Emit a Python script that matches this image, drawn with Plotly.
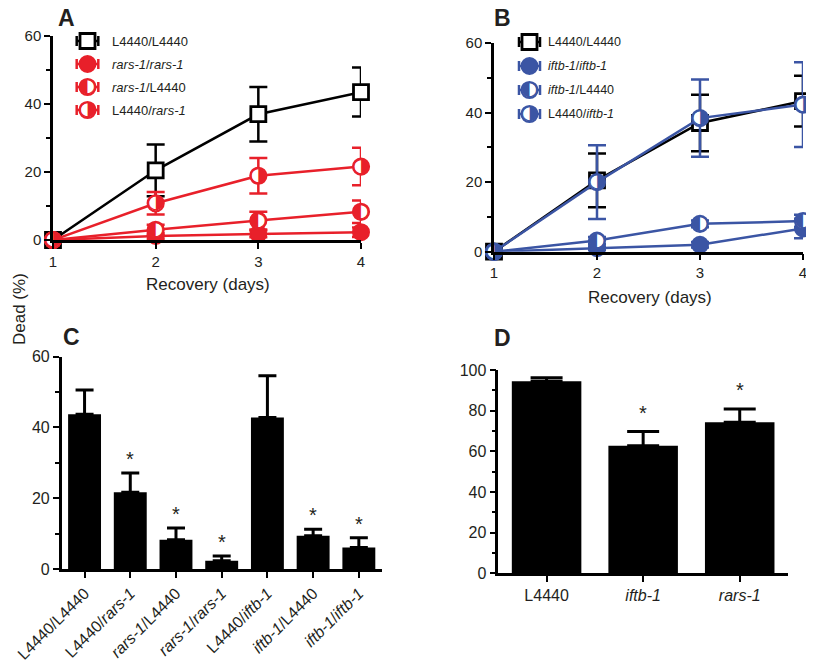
import plotly.graph_objects as go

# the page body has an 8px margin, so the figure is shifted by it
OFF = 8
W, H = 814 - OFF, 668 - OFF

RED = "#e8202a"
BLUE = "#3b55a4"
FONT = "Arial, Liberation Sans, sans-serif"
GLYPH_FONT = "DejaVu Sans"

days = [1, 2, 3, 4]

# Panel A - rars-1 feeding, % dead after recovery (mean and error)
a_names = ["L4440/L4440", "<i>rars-1</i>/<i>rars-1</i>", "<i>rars-1</i>/L4440", "L4440/<i>rars-1</i>"]
a_ctrl = [0, 20.5, 37.0, 43.5]
a_ctrl_err = [0, 7.6, 8.0, 7.2]
a_rr = [0, 1.2, 1.8, 2.3]
a_rr_err = [0, 0.8, 1.0, 1.4]
a_rl = [0, 3.0, 5.7, 8.3]
a_rl_err = [0, 1.5, 2.6, 3.3]
a_lr = [0, 10.8, 18.9, 21.6]
a_lr_err = [0, 3.3, 5.2, 5.5]

# Panel B - iftb-1 feeding
b_names = ["L4440/L4440", "<i>iftb-1</i>/<i>iftb-1</i>", "<i>iftb-1</i>/L4440", "L4440/<i>iftb-1</i>"]
b_ctrl = [0, 20.5, 37.0, 43.3]
b_ctrl_err = [0, 7.7, 8.1, 7.3]
b_ii = [0, 1.0, 2.0, 6.7]
b_ii_err = [0, 0.5, 0.8, 2.8]
b_il = [0, 3.2, 8.0, 8.8]
b_il_err = [0, 1.0, 1.0, 1.8]
b_li = [0, 20.0, 38.4, 42.3]
b_li_err = [0, 10.6, 11.1, 12.2]

# Panel C - day 4
c_labels = ["L4440/L4440", "L4440/<i>rars-1</i>", "<i>rars-1</i>/L4440", "<i>rars-1</i>/<i>rars-1</i>",
            "L4440/<i>iftb-1</i>", "<i>iftb-1</i>/L4440", "<i>iftb-1</i>/<i>iftb-1</i>"]
c_vals = [43.7, 21.7, 8.3, 2.3, 42.8, 9.4, 6.1]
c_err = [6.9, 5.4, 3.3, 1.4, 11.8, 1.8, 2.7]
c_sig = [False, True, True, True, False, True, True]

# Panel D
d_labels = ["L4440", "<i>iftb-1</i>", "<i>rars-1</i>"]
d_vals = [94.5, 62.8, 74.3]
d_err = [1.7, 6.9, 6.5]
d_sig = [False, True, True]


def px_x(p):
    return (p - OFF) / W


def px_y(p):
    return 1 - (p - OFF) / H


def series(x, y, err, kind, color, xa, ya, mode="lines+markers", err_x=None, size=16):
    # kind: square / full / left / right (half filled circles drawn with glyphs)
    tr = dict(x=x, y=y, xaxis=xa, yaxis=ya, showlegend=False, cliponaxis=False,
              line=dict(color=color, width=2.5), hoverinfo="skip")
    if err is not None:
        tr["error_y"] = dict(type="data", array=err, color=color, thickness=2.5, width=9)
    if err_x is not None:
        tr["error_x"] = dict(type="constant", value=err_x, color=color, thickness=2.5, width=5)
    if kind == "square":
        tr["marker"] = dict(symbol="square", size=size - 1, color="white", line=dict(color=color, width=2.8))
    elif kind == "full":
        tr["marker"] = dict(symbol="circle", size=size, color=color, line=dict(color=color, width=2))
    else:
        tr["marker"] = dict(symbol="circle", size=size, color="white", line=dict(color=color, width=2.2))
        mode = mode + "+text"
        tr["text"] = ["\u25d0" if kind == "left" else "\u25d1"] * len(x)
        tr["textposition"] = "middle center"
        tr["textfont"] = dict(family=GLYPH_FONT, size=size * 1.25, color=color)
    tr["mode"] = mode
    return go.Scatter(**tr)


fig = go.Figure()

# Panel A
fig.add_trace(series(days, a_ctrl, a_ctrl_err, "square", "black", "x", "y"))
fig.add_trace(series(days, a_rr, a_rr_err, "full", RED, "x", "y"))
fig.add_trace(series(days, a_rl, a_rl_err, "left", RED, "x", "y"))
fig.add_trace(series(days, a_lr, a_lr_err, "right", RED, "x", "y"))

# Panel B
fig.add_trace(series(days, b_ctrl, b_ctrl_err, "square", "black", "x2", "y2"))
fig.add_trace(series(days, b_ii, b_ii_err, "full", BLUE, "x2", "y2"))
fig.add_trace(series(days, b_il, b_il_err, "left", BLUE, "x2", "y2"))
fig.add_trace(series(days, b_li, b_li_err, "right", BLUE, "x2", "y2"))

# legends (hidden axes, one row per series)
for names, color, xa, ya, ex in [(a_names, RED, "x5", "y5", 0.46), (b_names, BLUE, "x6", "y6", 0.6)]:
    kinds = ["square", "full", "left", "right"]
    for n, k in zip(names, kinds):
        col = "black" if k == "square" else color
        fig.add_trace(series([0], [n], None, k, col, xa, ya, mode="markers", err_x=ex))

# Panel C
fig.add_trace(go.Bar(x=c_labels, y=c_vals, xaxis="x3", yaxis="y3", width=0.72,
                     marker=dict(color="black", line=dict(width=0)), showlegend=False,
                     error_y=dict(type="data", array=c_err, arrayminus=[0] * len(c_err),
                                  symmetric=False, color="black", thickness=3, width=9)))

# Panel D
fig.add_trace(go.Bar(x=d_labels, y=d_vals, xaxis="x4", yaxis="y4", width=0.72,
                     marker=dict(color="black", line=dict(width=0)), showlegend=False,
                     error_y=dict(type="data", array=d_err, arrayminus=[0] * len(d_err),
                                  symmetric=False, color="black", thickness=3, width=16)))

axis_common = dict(showline=True, linecolor="black", linewidth=2.5, showgrid=False, zeroline=False,
                   ticks="outside", ticklen=6, tickwidth=2, tickcolor="black", automargin=False,
                   tickfont=dict(family=FONT, size=16, color="#231f20"))
small_ticks = dict(family=FONT, size=15, color="#231f20")
minor = dict(ticks="outside", dtick=10, ticklen=4, tickwidth=2, tickcolor="black")

fig.update_layout(
    width=W, height=H, margin=dict(l=0, r=0, t=0, b=0, autoexpand=False),
    plot_bgcolor="white", paper_bgcolor="white",
    font=dict(family=FONT, color="#231f20"),
    xaxis=dict(axis_common, domain=[px_x(53), px_x(361)], range=[1, 4], tickvals=days,
               tickfont=small_ticks, anchor="y"),
    yaxis=dict(axis_common, domain=[px_y(240), px_y(36)], range=[0, 60], tickvals=[0, 20, 40, 60],
               tickfont=small_ticks, minor=minor, anchor="x"),
    xaxis2=dict(axis_common, domain=[px_x(494), px_x(803)], range=[1, 4], tickvals=days,
                tickfont=small_ticks, anchor="y2"),
    yaxis2=dict(axis_common, domain=[px_y(251.7), px_y(43)], range=[0, 60], tickvals=[0, 20, 40, 60],
                tickfont=small_ticks, minor=minor, anchor="x2"),
    xaxis3=dict(axis_common, domain=[px_x(61.7), px_x(381.7)], range=[-0.5, 6.5], tickangle=-45,
                categoryorder="array", categoryarray=c_labels, anchor="y3"),
    yaxis3=dict(axis_common, domain=[px_y(569), px_y(356.7)], range=[0, 60], tickvals=[0, 20, 40, 60],
                minor=minor, anchor="x3"),
    xaxis4=dict(axis_common, domain=[px_x(498.3), px_x(788)], range=[-0.5, 2.5],
                categoryorder="array", categoryarray=d_labels, anchor="y4"),
    yaxis4=dict(axis_common, domain=[px_y(573.3), px_y(370)], range=[0, 100], dtick=20,
                minor=minor, anchor="x4"),
    xaxis5=dict(domain=[px_x(64), px_x(111)], range=[-1, 1], visible=False, anchor="y5"),
    yaxis5=dict(domain=[px_y(121.5), px_y(29.5)], range=[3.5, -0.5], side="right", anchor="x5",
                showline=False, showgrid=False, zeroline=False, ticks="", automargin=False,
                categoryorder="array", categoryarray=a_names,
                tickfont=dict(family=FONT, size=13, color="#231f20")),
    xaxis6=dict(domain=[px_x(512), px_x(547)], range=[-1, 1], visible=False, anchor="y6"),
    yaxis6=dict(domain=[px_y(126), px_y(30)], range=[3.5, -0.5], side="right", anchor="x6",
                showline=False, showgrid=False, zeroline=False, ticks="", automargin=False,
                categoryorder="array", categoryarray=b_names,
                tickfont=dict(family=FONT, size=12.5, color="#231f20")),
)

ann = []
for txt, x, y in [("A", 66, 18.5), ("B", 502, 18.5), ("C", 71, 337), ("D", 502, 338)]:
    ann.append(dict(text="<b>%s</b>" % txt, x=px_x(x), y=px_y(y), font=dict(size=23)))
ann.append(dict(text="Recovery (days)", x=px_x(207.5), y=px_y(284.5), font=dict(size=17)))
ann.append(dict(text="Recovery (days)", x=px_x(650), y=px_y(297), font=dict(size=17)))
ann.append(dict(text="Dead (%)", x=px_x(19), y=px_y(309), textangle=-90, font=dict(size=17)))
for a in ann:
    a.update(xref="paper", yref="paper", xanchor="center", yanchor="middle", showarrow=False)

for lab, v, e, s in zip(c_labels, c_vals, c_err, c_sig):
    if s:
        ann.append(dict(text="*", x=lab, y=v + e, xref="x3", yref="y3", showarrow=False,
                        yanchor="middle", yshift=14, font=dict(size=20)))
for lab, v, e, s in zip(d_labels, d_vals, d_err, d_sig):
    if s:
        ann.append(dict(text="*", x=lab, y=v + e, xref="x4", yref="y4", showarrow=False,
                        yanchor="middle", yshift=19, font=dict(size=20)))

fig.update_layout(annotations=ann)

fig.write_html("out.html")
